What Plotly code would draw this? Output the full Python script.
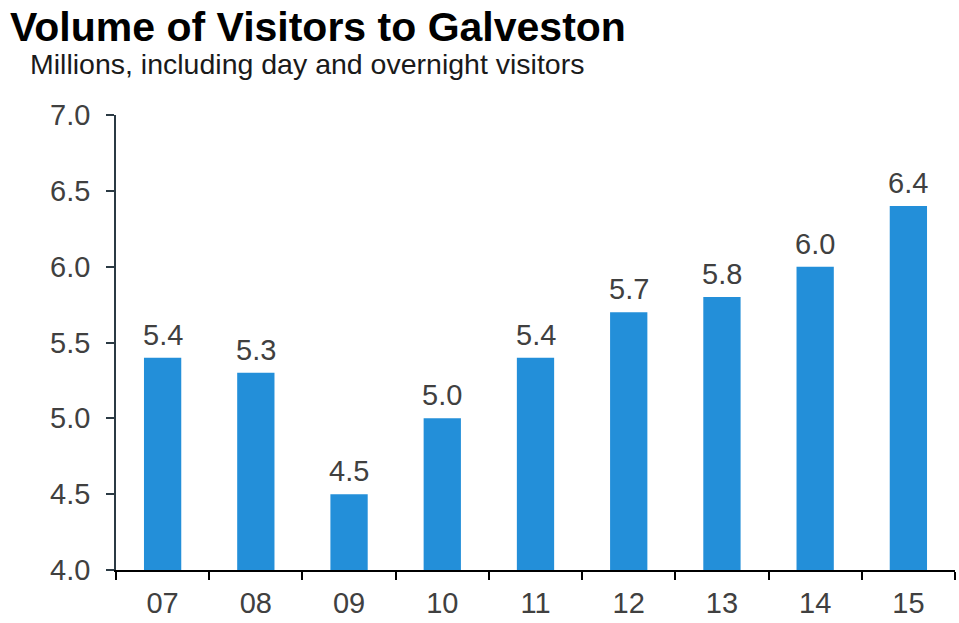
import plotly.graph_objects as go

years = ["07", "08", "09", "10", "11", "12", "13", "14", "15"]
visitors = [5.4, 5.3, 4.5, 5.0, 5.4, 5.7, 5.8, 6.0, 6.4]
y_ticks = [4.0, 4.5, 5.0, 5.5, 6.0, 6.5, 7.0]

bar_color = "#238FD9"
axis_color = "#2B3A44"
text_color = "#404040"
font_family = "Liberation Sans, Arial, sans-serif"

fig = go.Figure(
    go.Bar(
        x=years,
        y=visitors,
        marker=dict(color=bar_color, line=dict(width=0)),
        width=0.4,
        hovertemplate="%{x}: %{y:.1f}<extra></extra>",
    )
)

# value labels sitting just above each bar (x given as category index)
value_labels = [
    dict(
        x=i, y=v, xref="x", yref="y",
        text=f"{v:.1f}",
        showarrow=False,
        xanchor="center", yanchor="bottom",
        yshift=5,
        font=dict(size=29, color=text_color, family=font_family),
    )
    for i, v in enumerate(visitors)
]

fig.update_layout(
    width=959,
    height=623,
    margin=dict(l=116, r=4, t=115, b=50),
    paper_bgcolor="white",
    plot_bgcolor="white",
    showlegend=False,
    font=dict(family=font_family, color=text_color),
    annotations=[
        dict(
            text="<b>Volume of Visitors to Galveston</b>",
            xref="paper", yref="paper", x=0, y=1,
            xanchor="left", yanchor="top",
            xshift=-108, yshift=113,
            showarrow=False,
            font=dict(size=41, color="#000000", family=font_family),
        ),
        dict(
            text="Millions, including day and overnight visitors",
            xref="paper", yref="paper", x=0, y=1,
            xanchor="left", yanchor="top",
            xshift=-88, yshift=69,
            showarrow=False,
            font=dict(size=28.5, color="#1a1a1a", family=font_family),
        ),
    ] + value_labels,
)

fig.update_xaxes(
    type="category",
    categoryorder="array",
    categoryarray=years,
    range=[-0.5, len(years) - 0.5],
    showline=True,
    linecolor="#000000",
    linewidth=1.5,
    ticks="outside",
    tickson="boundaries",
    ticklen=8,
    tickcolor="#000000",
    tickwidth=1.5,
    ticklabelstandoff=6,
    showgrid=False,
    tickfont=dict(size=29, color=text_color, family=font_family),
)

fig.update_yaxes(
    range=[4.0, 7.0],
    tickvals=y_ticks,
    ticktext=[f"{t:.1f}" for t in y_ticks],
    showline=True,
    linecolor=axis_color,
    linewidth=1.5,
    ticks="outside",
    ticklen=8,
    tickcolor=axis_color,
    tickwidth=1.5,
    ticklabelstandoff=10,
    showgrid=False,
    zeroline=False,
    tickfont=dict(size=29, color=text_color, family=font_family),
)

fig.write_html("out.html")
